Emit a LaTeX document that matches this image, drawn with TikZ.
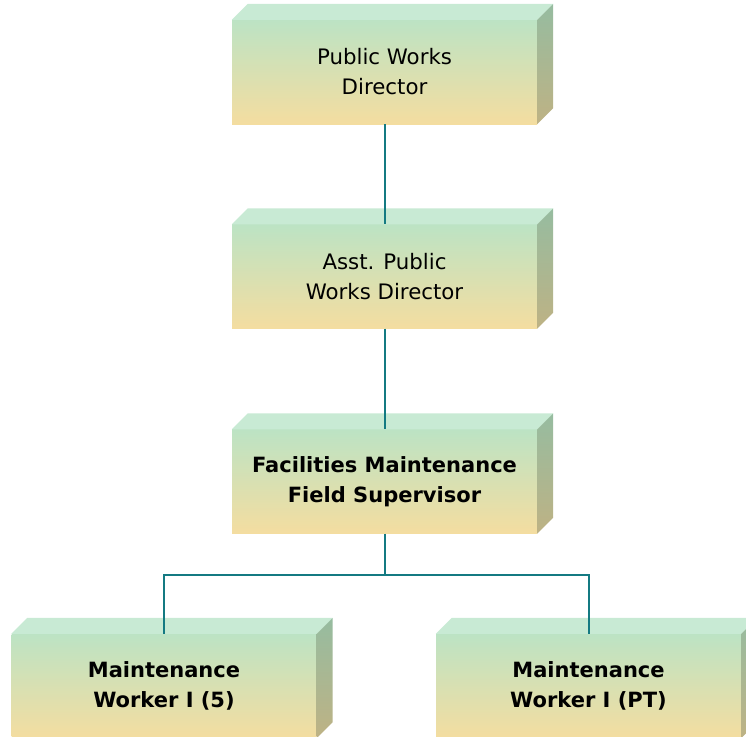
\documentclass[tikz,border=0pt]{standalone}
\usepackage{fontspec}
\setmainfont{DejaVu Sans}
\usepackage{tikz}
\usetikzlibrary{positioning, shapes}

\definecolor{facetop}{RGB}{200,234,212}
\definecolor{frontup}{RGB}{188,227,196}
\definecolor{frontlow}{RGB}{244,221,160}
\definecolor{sideup}{RGB}{150,188,160}
\definecolor{sidelow}{RGB}{190,178,132}
\definecolor{linkteal}{RGB}{20,122,130}

\tikzset{
  orgbox/.style={rectangle, minimum width=305pt, minimum height=104pt,
    top color=frontup, bottom color=frontlow, inner sep=0pt,
    align=center, font=\fontsize{21.3}{30}\selectfont},
  boss/.style={orgbox},
  staff/.style={orgbox, font=\fontsize{21}{30}\selectfont\bfseries},
  link/.style={draw=linkteal, line width=2pt},
}

\begin{document}
\begin{tikzpicture}[x=1pt, y=-1pt]
\useasboundingbox (0,0) rectangle (746,736);
\clip (0,0) rectangle (746,736);

\node[boss] (dir) at (384.5,72) {Public Works\\Director};
\node[boss] (asst) at (384.5,276.5) {Asst. Public\\Works Director};
\node[staff] (sup) at (384.5,481.5) {Facilities Maintenance\\Field Supervisor};
\node[staff] (mw) at (164,686) {Maintenance\\Worker I (5)};
\node[staff] (mwpt) at (588.5,686) {Maintenance\\Worker I (PT)};

% top and side faces
\foreach \n in {dir, asst, sup, mw, mwpt}{
  \fill[facetop] (\n.north west) -- ++(16,-16) -- ([xshift=16pt,yshift=16pt]\n.north east)
    -- (\n.north east) -- cycle;
  \shade[top color=sideup, bottom color=sidelow] (\n.north east)
    -- ++(16,-16) -- ([xshift=16pt,yshift=16pt]\n.south east) -- (\n.south east) -- cycle;
}

% connectors
\coordinate (bus) at (384.5,575);
\draw[link] (dir.south) -- (asst.north);
\draw[link] (asst.south) -- (sup.north);
\draw[link] (sup.south) -- (bus) -| (mw.north);
\draw[link] (bus) -| (mwpt.north);
\end{tikzpicture}
\end{document}
